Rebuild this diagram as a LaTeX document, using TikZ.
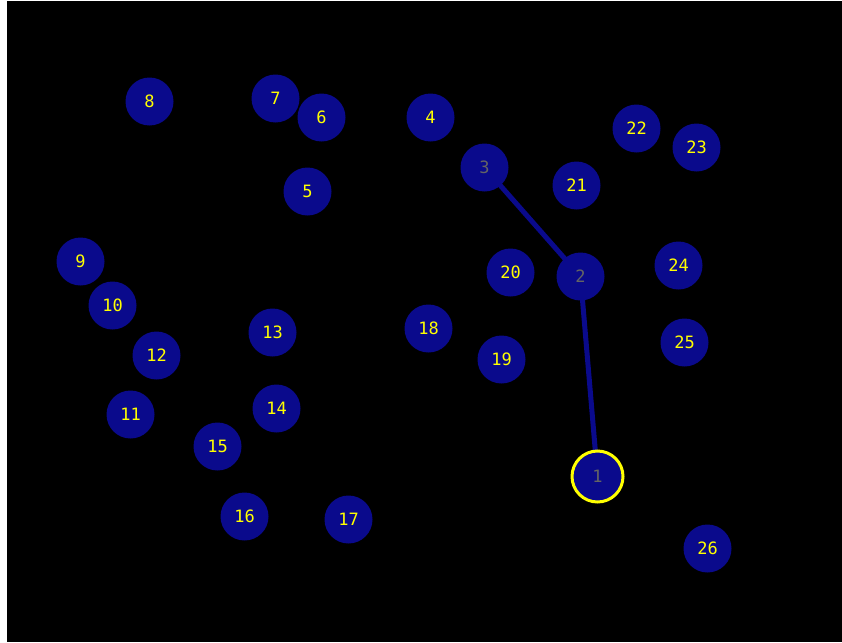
\documentclass[tikz,border=0pt]{standalone}
\usepackage{fontspec}
\newfontfamily\nodefont{DejaVu Sans Mono}
\usetikzlibrary{positioning, backgrounds}

\definecolor{navy}{RGB}{10,10,140}
\definecolor{labelyellow}{RGB}{255,255,0}
\definecolor{labelgray}{RGB}{100,100,100}

\begin{document}
\begin{tikzpicture}[x=1pt, y=-1pt,
    vertex/.style={circle, fill=navy, minimum size=48pt, inner sep=0pt,
                   font=\nodefont\fontsize{17}{17}\selectfont, text=labelyellow},
    visited/.style={vertex, text=labelgray},
    current/.style={visited, draw=labelyellow, line width=3pt, minimum size=51pt},
    link/.style={navy, line width=5pt},
]

% background
\useasboundingbox (0,0) rectangle (842,642);
\begin{pgfonlayer}{background}
\fill[white] (0,0) rectangle (842,642);
\fill[black] (7,1) rectangle (842,642);
\end{pgfonlayer}

% ===================== VERTICES =====================
\node[current] (v1) at (597.5,476.5) {1};
\node[visited] (v2) at (580.5,276.5) {2};
\node[visited] (v3) at (484.5,167.5) {3};

\foreach \n/\x/\y in {4/430.5/117.5, 5/307.5/191.5, 6/321.5/117.5, 7/275.5/98.5,
    8/149.5/101.5, 9/80.5/261.5, 10/112.5/305.5, 11/130.5/414.5, 12/156.5/355.5,
    13/272.5/332.5, 14/276.5/408.5, 15/217.5/446.5, 16/244.5/516.5, 17/348.5/519.5,
    18/428.5/328.5, 19/501.5/359.5, 20/510.5/272.5, 21/576.5/185.5, 22/636.5/128.5,
    23/696.5/147.5, 24/678.5/265.5, 25/684.5/342.5, 26/707.5/548.5} {
    \node[vertex] (v\n) at (\x,\y) {\n};
}

% ===================== PATH =====================
\begin{pgfonlayer}{background}
\draw[link] (v3.center) -- (v2.center);
\draw[link] (v2.center) -- (v1.center);
\end{pgfonlayer}

\end{tikzpicture}
\end{document}
